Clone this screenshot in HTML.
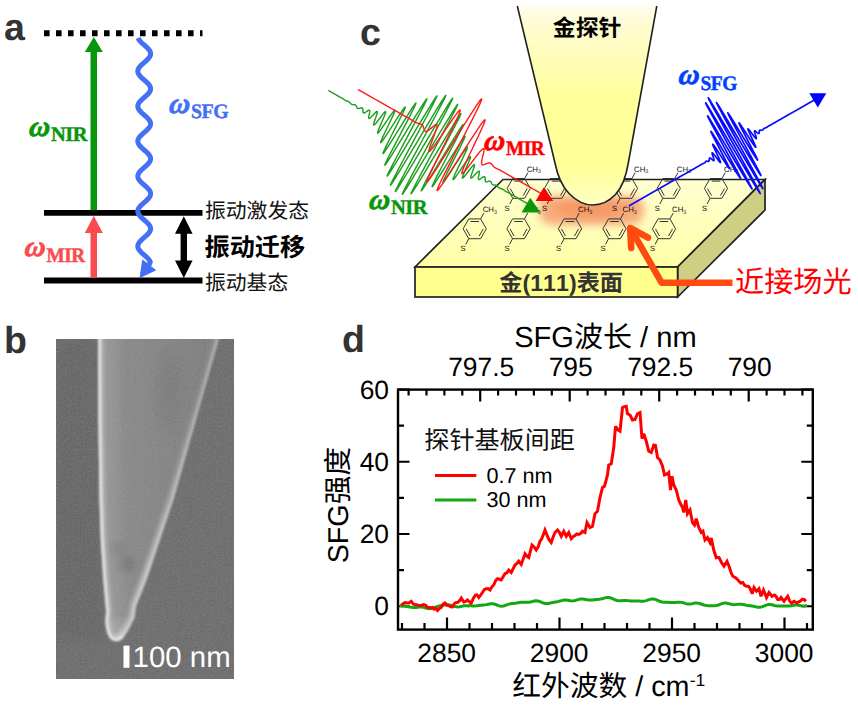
<!DOCTYPE html>
<html lang="zh"><head><meta charset="utf-8"><title>SFG figure</title>
<style>
html,body{margin:0;padding:0;background:#fff;}
body{width:858px;height:711px;overflow:hidden;font-family:"Liberation Sans",sans-serif;}
svg{display:block;font-kerning:none;text-rendering:geometricPrecision;}
text{font-kerning:none;text-rendering:geometricPrecision;}
</style></head><body>
<svg width="858" height="711" viewBox="0 0 858 711">
<defs>
<linearGradient id="tipg" x1="0" y1="0" x2="0" y2="1">
<stop offset="0" stop-color="#fffef0"/><stop offset="0.1" stop-color="#fffbd2"/><stop offset="0.45" stop-color="#ffff9c"/><stop offset="0.8" stop-color="#ffff96"/><stop offset="1" stop-color="#ffffc4"/></linearGradient>
<linearGradient id="topg" x1="0" y1="0" x2="0" y2="1"><stop offset="0" stop-color="#ffffd2"/><stop offset="1" stop-color="#ffffa6"/></linearGradient>
<filter id="blur5" x="-30%" y="-60%" width="160%" height="220%"><feGaussianBlur stdDeviation="4.5"/></filter>
<clipPath id="semclip"><rect x="56" y="339" width="178" height="340"/></clipPath>
<clipPath id="tipclip"><path d="M98.1 320 L98.1 339 L98.4 420 L99.5 500 L100.8 540 L103.4 580 L106.3 612 C104.5 622 106 632 109.5 637.5 C113 642.5 120.5 642.5 124 636.5 L128 630.5 L134.6 617.6 L135.7 607 L146.4 580 L159.8 540 L173.2 500 L218.6 339 L224 320 Z"/></clipPath>
<filter id="b07" x="-20%" y="-10%" width="140%" height="120%"><feGaussianBlur stdDeviation="0.9"/></filter>
<filter id="b1" x="-50%" y="-10%" width="200%" height="120%"><feGaussianBlur stdDeviation="1.1"/></filter>
<filter id="b2" x="-50%" y="-10%" width="200%" height="120%"><feGaussianBlur stdDeviation="2"/></filter>
<filter id="b3" x="-50%" y="-10%" width="200%" height="120%"><feGaussianBlur stdDeviation="4"/></filter>
<filter id="b6" x="-50%" y="-50%" width="200%" height="200%"><feGaussianBlur stdDeviation="6"/></filter>
<filter id="noise" x="0" y="0" width="100%" height="100%"><feTurbulence type="fractalNoise" baseFrequency="0.55" numOctaves="2" seed="3" result="n"/><feColorMatrix type="matrix" values="0 0 0 0 0.5  0 0 0 0 0.5  0 0 0 0 0.5  0.7 0.7 0.7 0 -0.8"/></filter>
<linearGradient id="semtip" x1="0" y1="0" x2="1" y2="0"><stop offset="0" stop-color="#8c8c8c"/><stop offset="0.45" stop-color="#858585"/><stop offset="1" stop-color="#7c7c7c"/></linearGradient>
<linearGradient id="rlowg" gradientUnits="userSpaceOnUse" x1="0" y1="400" x2="0" y2="580"><stop offset="0" stop-color="#e8e8e8" stop-opacity="0"/><stop offset="1" stop-color="#e8e8e8" stop-opacity="0.5"/></linearGradient>
</defs>
<rect width="858" height="711" fill="#fff"/>
<g id="panel-a">
<text x="4" y="39.5" font-size="37.5" font-weight="bold" fill="#333" font-family="'Liberation Sans', sans-serif">a</text>
<line x1="44" y1="33.3" x2="202.5" y2="33.3" stroke="#000" stroke-width="6" stroke-dasharray="5.6 6.4"/>
<line x1="44" y1="212.8" x2="202.5" y2="212.8" stroke="#000" stroke-width="5.8"/>
<line x1="44" y1="280.5" x2="202.5" y2="280.5" stroke="#000" stroke-width="5.8"/>
<path d="M90.5 210 V52 H84.8 L93.8 37 L102.8 52 H97 V210 Z" fill="#0a960a"/>
<path d="M90.5 277.7 V233 H84.8 L93.8 215.8 L102.8 233 H97 V277.7 Z" fill="#fa4b50"/>
<path d="M183.8 216.2 L192.6 233.8 H187 V260.5 H192.6 L183.8 278 L175 260.5 H180.6 V233.8 H175 Z" fill="#000"/>
<path d="M138.11 38 L138.63 39.12 L139.37 40.24 L140.31 41.36 L141.4 42.48 L142.61 43.6 L143.88 44.72 L145.16 45.84 L146.41 46.96 L147.56 48.08 L148.58 49.2 L149.42 50.32 L150.06 51.44 L150.45 52.56 L150.6 53.68 L150.49 54.8 L150.12 55.92 L149.52 57.04 L148.7 58.16 L147.7 59.28 L146.56 60.4 L145.32 61.52 L144.04 62.64 L142.76 63.76 L141.55 64.88 L140.44 66 L139.48 67.12 L138.71 68.24 L138.16 69.36 L137.86 70.48 L137.81 71.6 L138.02 72.72 L138.48 73.84 L139.17 74.96 L140.06 76.08 L141.12 77.2 L142.3 78.32 L143.56 79.44 L144.84 80.56 L146.1 81.68 L147.28 82.8 L148.34 83.92 L149.23 85.04 L149.92 86.16 L150.38 87.28 L150.59 88.4 L150.54 89.52 L150.24 90.64 L149.69 91.76 L148.92 92.88 L147.96 94 L146.85 95.12 L145.64 96.24 L144.36 97.36 L143.08 98.48 L141.84 99.6 L140.7 100.72 L139.7 101.84 L138.88 102.96 L138.28 104.08 L137.91 105.2 L137.8 106.32 L137.95 107.44 L138.34 108.56 L138.98 109.68 L139.82 110.8 L140.84 111.92 L141.99 113.04 L143.24 114.16 L144.52 115.28 L145.79 116.4 L147 117.52 L148.09 118.64 L149.03 119.76 L149.77 120.88 L150.29 122 L150.56 123.12 L150.58 124.24 L150.33 125.36 L149.85 126.48 L149.13 127.6 L148.22 128.72 L147.14 129.84 L145.95 130.96 L144.68 132.08 L143.4 133.2 L142.15 134.32 L140.98 135.44 L139.94 136.56 L139.07 137.68 L138.41 138.8 L137.98 139.92 L137.8 141.04 L137.89 142.16 L138.22 143.28 L138.8 144.4 L139.59 145.52 L140.57 146.64 L141.7 147.76 L142.92 148.88 L144.2 150 L145.48 151.12 L146.7 152.24 L147.83 153.36 L148.81 154.48 L149.6 155.6 L150.18 156.72 L150.51 157.84 L150.6 158.96 L150.42 160.08 L149.99 161.2 L149.33 162.32 L148.46 163.44 L147.42 164.56 L146.25 165.68 L145 166.8 L143.72 167.92 L142.45 169.04 L141.26 170.16 L140.18 171.28 L139.27 172.4 L138.55 173.52 L138.07 174.64 L137.82 175.76 L137.84 176.88 L138.11 178 L138.63 179.12 L139.37 180.24 L140.31 181.36 L141.4 182.48 L142.61 183.6 L143.88 184.72 L145.16 185.84 L146.41 186.96 L147.56 188.08 L148.58 189.2 L149.42 190.32 L150.06 191.44 L150.45 192.56 L150.6 193.68 L150.49 194.8 L150.12 195.92 L149.52 197.04 L148.7 198.16 L147.7 199.28 L146.56 200.4 L145.32 201.52 L144.04 202.64 L142.76 203.76 L141.55 204.88 L140.44 206 L139.48 207.12 L138.71 208.24 L138.16 209.36 L137.86 210.48 L137.81 211.6 L138.02 212.72 L138.48 213.84 L139.17 214.96 L140.06 216.08 L141.12 217.2 L142.3 218.32 L143.56 219.44 L144.84 220.56 L146.1 221.68 L147.28 222.8 L148.34 223.92 L149.23 225.04 L149.92 226.16 L150.38 227.28 L150.59 228.4 L150.54 229.52 L150.24 230.64 L149.69 231.76 L148.92 232.88 L147.96 234 L146.85 235.12 L145.64 236.24 L144.36 237.36 L143.08 238.48 L141.84 239.6 L140.7 240.72 L139.7 241.84 L138.88 242.96 L138.28 244.08 L137.91 245.2 L137.8 246.32 L137.95 247.44 L138.34 248.56 L138.98 249.68 L139.82 250.8 L140.84 251.92 L141.99 253.04 L143.24 254.16 L144.52 255.28 L145.79 256.4 L147 257.52 L148.09 258.64 L149.03 259.76 L149.77 260.88 L150.29 262 L148.5 266" fill="none" stroke="#4570f5" stroke-width="5" stroke-linejoin="round" stroke-linecap="butt"/>
<path d="M139.5 278.3 L142.3 259.3 L156.3 270.2 Z" fill="#4570f5"/>
<text transform="translate(28.5 135.5) skewX(-6)" font-size="29" fill="#0a960a" stroke="#0a960a" stroke-width="0.75" font-family="'Liberation Serif', serif" font-weight="bold" font-style="italic">ω</text><text transform="translate(50.97 141) scale(1 1)" font-size="20.5" fill="#0a960a" stroke="#0a960a" stroke-width="0.45" letter-spacing="-0.5" font-family="'Liberation Serif', serif" font-weight="bold">NIR</text>
<text transform="translate(24 256) skewX(-6)" font-size="29" fill="#fa4b50" stroke="#fa4b50" stroke-width="0.75" font-family="'Liberation Serif', serif" font-weight="bold" font-style="italic">ω</text><text transform="translate(46.47 261.5) scale(0.94 1)" font-size="20.5" fill="#fa4b50" stroke="#fa4b50" stroke-width="0.45" letter-spacing="-0.5" font-family="'Liberation Serif', serif" font-weight="bold">MIR</text>
<text transform="translate(168.5 112.5) skewX(-6)" font-size="29" fill="#4570f5" stroke="#4570f5" stroke-width="0.75" font-family="'Liberation Serif', serif" font-weight="bold" font-style="italic">ω</text><text transform="translate(190.97 118) scale(0.97 1)" font-size="20.5" fill="#4570f5" stroke="#4570f5" stroke-width="0.45" letter-spacing="-0.5" font-family="'Liberation Serif', serif" font-weight="bold">SFG</text>
<text x="205" y="218.3" font-size="20.8" fill="#111" font-family="'Liberation Sans', 'Noto Sans CJK SC', sans-serif">振动激发态</text>
<text x="204.6" y="255.5" font-size="25.1" font-weight="bold" fill="#000" font-family="'Liberation Sans', 'Noto Sans CJK SC', sans-serif">振动迁移</text>
<text x="205" y="289.8" font-size="20.8" fill="#111" font-family="'Liberation Sans', 'Noto Sans CJK SC', sans-serif">振动基态</text>
</g>
<g id="panel-c">
<text x="360" y="44.5" font-size="37.5" font-weight="bold" fill="#333" font-family="'Liberation Sans', sans-serif">c</text>
<path d="M415 267 L503 179.5 H765 L677.6 267 Z" fill="url(#topg)" stroke="#222" stroke-width="1.7" stroke-linejoin="miter"/>
<path d="M677.6 267 L765 179.5 V210 L677.6 297 Z" fill="#cfcf84" stroke="#222" stroke-width="1.7" stroke-linejoin="miter"/>
<rect x="415" y="267" width="262.6" height="30" fill="#ffff8e" stroke="#222" stroke-width="1.7"/>
<rect x="539" y="196" width="105" height="29" rx="13" fill="#f7a878" fill-opacity="0.95" filter="url(#blur5)"/>
<ellipse cx="590" cy="208" rx="36" ry="9" fill="#ee7c40" fill-opacity="0.38" filter="url(#blur5)"/>
<path d="M512.75 178.5 L524.65 178.5 L530.3 188.4 L524.65 198.3 L512.75 198.3 L507.1 188.4 ZM514.42 181.1 L522.98 181.1M527.24 188.51 L523.18 195.64M514.22 195.64 L510.16 188.51M524.65 178.5 L527.9 172.6M512.75 198.3 L509.8 204" fill="none" stroke="#2a2a2a" stroke-width="0.95"/><text x="526.7" y="171.8" font-size="7.8" fill="#111" font-family="'Liberation Sans', sans-serif">CH<tspan font-size="5.4" dy="1.4">3</tspan></text><text x="504.6" y="210.8" font-size="7.6" fill="#111" font-family="'Liberation Sans', sans-serif">S</text>
<path d="M550.05 178.5 L561.95 178.5 L567.6 188.4 L561.95 198.3 L550.05 198.3 L544.4 188.4 ZM551.72 181.1 L560.28 181.1M564.54 188.51 L560.48 195.64M551.52 195.64 L547.46 188.51M561.95 178.5 L565.2 172.6M550.05 198.3 L547.1 204" fill="none" stroke="#2a2a2a" stroke-width="0.95"/><text x="564" y="171.8" font-size="7.8" fill="#111" font-family="'Liberation Sans', sans-serif">CH<tspan font-size="5.4" dy="1.4">3</tspan></text><text x="541.9" y="210.8" font-size="7.6" fill="#111" font-family="'Liberation Sans', sans-serif">S</text>
<path d="M620.05 178.5 L631.95 178.5 L637.6 188.4 L631.95 198.3 L620.05 198.3 L614.4 188.4 ZM621.72 181.1 L630.28 181.1M634.54 188.51 L630.48 195.64M621.52 195.64 L617.46 188.51M631.95 178.5 L635.2 172.6M620.05 198.3 L617.1 204" fill="none" stroke="#2a2a2a" stroke-width="0.95"/><text x="634" y="171.8" font-size="7.8" fill="#111" font-family="'Liberation Sans', sans-serif">CH<tspan font-size="5.4" dy="1.4">3</tspan></text><text x="611.9" y="210.8" font-size="7.6" fill="#111" font-family="'Liberation Sans', sans-serif">S</text>
<path d="M662.8 178.5 L674.7 178.5 L680.35 188.4 L674.7 198.3 L662.8 198.3 L657.15 188.4 ZM664.47 181.1 L673.03 181.1M677.29 188.51 L673.23 195.64M664.27 195.64 L660.21 188.51M674.7 178.5 L677.95 172.6M662.8 198.3 L659.85 204" fill="none" stroke="#2a2a2a" stroke-width="0.95"/><text x="676.75" y="171.8" font-size="7.8" fill="#111" font-family="'Liberation Sans', sans-serif">CH<tspan font-size="5.4" dy="1.4">3</tspan></text><text x="654.65" y="210.8" font-size="7.6" fill="#111" font-family="'Liberation Sans', sans-serif">S</text>
<path d="M710.05 178.5 L721.95 178.5 L727.6 188.4 L721.95 198.3 L710.05 198.3 L704.4 188.4 ZM711.72 181.1 L720.28 181.1M724.54 188.51 L720.48 195.64M711.52 195.64 L707.46 188.51M721.95 178.5 L725.2 172.6M710.05 198.3 L707.1 204" fill="none" stroke="#2a2a2a" stroke-width="0.95"/><text x="724" y="171.8" font-size="7.8" fill="#111" font-family="'Liberation Sans', sans-serif">CH<tspan font-size="5.4" dy="1.4">3</tspan></text><text x="701.9" y="210.8" font-size="7.6" fill="#111" font-family="'Liberation Sans', sans-serif">S</text>
<path d="M468.75 218.9 L480.65 218.9 L486.3 228.8 L480.65 238.7 L468.75 238.7 L463.1 228.8 ZM470.42 221.5 L478.98 221.5M483.24 228.91 L479.18 236.04M470.22 236.04 L466.16 228.91M480.65 218.9 L483.9 213M468.75 238.7 L465.8 244.4" fill="none" stroke="#2a2a2a" stroke-width="0.95"/><text x="482.7" y="212.2" font-size="7.8" fill="#111" font-family="'Liberation Sans', sans-serif">CH<tspan font-size="5.4" dy="1.4">3</tspan></text><text x="460.6" y="251.2" font-size="7.6" fill="#111" font-family="'Liberation Sans', sans-serif">S</text>
<path d="M512.55 218.9 L524.45 218.9 L530.1 228.8 L524.45 238.7 L512.55 238.7 L506.9 228.8 ZM514.22 221.5 L522.78 221.5M527.04 228.91 L522.98 236.04M514.02 236.04 L509.96 228.91M524.45 218.9 L527.7 213M512.55 238.7 L509.6 244.4" fill="none" stroke="#2a2a2a" stroke-width="0.95"/><text x="526.5" y="212.2" font-size="7.8" fill="#111" font-family="'Liberation Sans', sans-serif">CH<tspan font-size="5.4" dy="1.4">3</tspan></text><text x="504.4" y="251.2" font-size="7.6" fill="#111" font-family="'Liberation Sans', sans-serif">S</text>
<path d="M564.05 218.9 L575.95 218.9 L581.6 228.8 L575.95 238.7 L564.05 238.7 L558.4 228.8 ZM565.72 221.5 L574.28 221.5M578.54 228.91 L574.48 236.04M565.52 236.04 L561.46 228.91M575.95 218.9 L579.2 213M564.05 238.7 L561.1 244.4" fill="none" stroke="#2a2a2a" stroke-width="0.95"/><text x="578" y="212.2" font-size="7.8" fill="#111" font-family="'Liberation Sans', sans-serif">CH<tspan font-size="5.4" dy="1.4">3</tspan></text><text x="555.9" y="251.2" font-size="7.6" fill="#111" font-family="'Liberation Sans', sans-serif">S</text>
<path d="M608.55 218.9 L620.45 218.9 L626.1 228.8 L620.45 238.7 L608.55 238.7 L602.9 228.8 ZM610.22 221.5 L618.78 221.5M623.04 228.91 L618.98 236.04M610.02 236.04 L605.96 228.91M620.45 218.9 L623.7 213M608.55 238.7 L605.6 244.4" fill="none" stroke="#2a2a2a" stroke-width="0.95"/><text x="622.5" y="212.2" font-size="7.8" fill="#111" font-family="'Liberation Sans', sans-serif">CH<tspan font-size="5.4" dy="1.4">3</tspan></text><text x="600.4" y="251.2" font-size="7.6" fill="#111" font-family="'Liberation Sans', sans-serif">S</text>
<path d="M658.05 218.9 L669.95 218.9 L675.6 228.8 L669.95 238.7 L658.05 238.7 L652.4 228.8 ZM659.72 221.5 L668.28 221.5M672.54 228.91 L668.48 236.04M659.52 236.04 L655.46 228.91M669.95 218.9 L673.2 213M658.05 238.7 L655.1 244.4" fill="none" stroke="#2a2a2a" stroke-width="0.95"/><text x="672" y="212.2" font-size="7.8" fill="#111" font-family="'Liberation Sans', sans-serif">CH<tspan font-size="5.4" dy="1.4">3</tspan></text><text x="649.9" y="251.2" font-size="7.6" fill="#111" font-family="'Liberation Sans', sans-serif">S</text>
<path d="M517 5 L555 163 C557.5 176 562 186.5 569.5 194 C576.5 201 585 205 592.5 205 C600 205 609 201.5 615.5 194.5 C622 187.5 626 177 628.3 163 L657 5 Z" fill="url(#tipg)"/>
<path d="M517.3 6 L555 163 C557.5 176 562 186.5 569.5 194 C576.5 201 585 205 592.5 205 C600 205 609 201.5 615.5 194.5 C622 187.5 626 177 628.3 163 L656.8 6" fill="none" stroke="#222" stroke-width="1.6"/>
<text x="552.8" y="35.7" font-size="22.9" font-weight="bold" fill="#000" font-family="'Liberation Sans', 'Noto Sans CJK SC', sans-serif">金探针</text>
<text x="499.3" y="290.9" font-size="23.2" font-weight="bold" fill="#333" font-family="'Liberation Sans', 'Noto Sans CJK SC', sans-serif">金</text><text x="522.5" y="290.9" font-size="23.2" fill="#333" font-family="'Liberation Sans', sans-serif" font-weight="bold" xml:space="preserve">(111)</text><text x="576.66" y="290.9" font-size="23.2" font-weight="bold" fill="#333" font-family="'Liberation Sans', 'Noto Sans CJK SC', sans-serif">表面</text>
<path d="M328.41 90.49 L328.62 90.61 L328.84 90.73 L329.06 90.86 L329.28 90.98 L329.49 91.1 L329.71 91.23 L329.93 91.35 L330.14 91.48 L330.36 91.61 L330.58 91.73 L330.79 91.86 L331.01 91.99 L331.22 92.11 L331.44 92.24 L331.65 92.37 L331.87 92.5 L332.08 92.62 L332.3 92.75 L332.52 92.87 L332.73 92.99 L332.95 93.11 L333.17 93.24 L333.39 93.35 L333.61 93.47 L333.83 93.59 L334.05 93.71 L334.27 93.83 L334.5 93.94 L334.72 94.06 L334.94 94.18 L335.16 94.29 L335.38 94.41 L335.6 94.54 L335.81 94.66 L336.03 94.78 L336.25 94.91 L336.46 95.04 L336.67 95.17 L336.89 95.3 L337.1 95.44 L337.31 95.57 L337.52 95.7 L337.73 95.84 L337.94 95.97 L338.15 96.11 L338.37 96.24 L338.58 96.37 L338.8 96.49 L339.01 96.62 L339.23 96.74 L339.45 96.85 L339.68 96.97 L339.9 97.08 L340.13 97.19 L340.35 97.3 L340.58 97.4 L340.81 97.51 L341.04 97.61 L341.26 97.72 L341.49 97.83 L341.71 97.94 L341.94 98.05 L342.16 98.17 L342.37 98.3 L342.59 98.43 L342.8 98.56 L343.01 98.7 L343.21 98.85 L343.41 98.99 L343.62 99.14 L343.82 99.3 L344.02 99.45 L344.22 99.6 L344.42 99.75 L344.62 99.9 L344.83 100.04 L345.04 100.18 L345.26 100.3 L345.48 100.43 L345.7 100.54 L345.93 100.64 L346.16 100.74 L346.4 100.83 L346.64 100.91 L346.88 100.99 L347.13 101.06 L347.37 101.14 L347.61 101.22 L347.85 101.3 L348.09 101.39 L348.32 101.49 L348.55 101.6 L348.77 101.71 L348.98 101.85 L349.19 101.99 L349.39 102.15 L349.58 102.32 L349.76 102.5 L349.94 102.68 L350.12 102.88 L350.3 103.07 L350.47 103.27 L350.65 103.46 L350.83 103.65 L351.02 103.82 L351.22 103.98 L351.42 104.13 L351.64 104.25 L351.87 104.36 L352.11 104.45 L352.35 104.51 L352.61 104.56 L352.88 104.6 L353.16 104.62 L353.43 104.64 L353.72 104.65 L353.99 104.66 L354.27 104.68 L354.54 104.72 L354.8 104.77 L355.04 104.84 L355.27 104.94 L355.49 105.07 L355.69 105.22 L355.87 105.41 L356.04 105.62 L356.19 105.86 L356.33 106.12 L356.46 106.4 L356.58 106.69 L356.71 106.98 L356.83 107.26 L356.96 107.53 L357.11 107.78 L357.27 108.01 L357.45 108.2 L357.65 108.35 L357.88 108.46 L358.13 108.52 L358.4 108.55 L358.7 108.53 L359.02 108.47 L359.35 108.39 L359.7 108.28 L360.06 108.17 L360.41 108.05 L360.76 107.94 L361.1 107.85 L361.42 107.79 L361.71 107.78 L361.98 107.82 L362.21 107.92 L362.41 108.07 L362.57 108.3 L362.7 108.58 L362.79 108.92 L362.85 109.31 L362.9 109.74 L362.92 110.2 L362.94 110.68 L362.96 111.15 L362.99 111.6 L363.04 112.02 L363.12 112.38 L363.24 112.69 L363.4 112.91 L363.6 113.05 L363.86 113.11 L364.17 113.07 L364.53 112.95 L364.93 112.74 L365.37 112.47 L365.84 112.15 L366.33 111.79 L366.83 111.42 L367.32 111.06 L367.8 110.73 L368.24 110.45 L368.64 110.26 L368.99 110.15 L369.28 110.16 L369.49 110.28 L369.64 110.53 L369.71 110.91 L369.72 111.4 L369.66 112 L369.56 112.69 L369.42 113.45 L369.25 114.25 L369.08 115.06 L368.92 115.85 L368.79 116.58 L368.71 117.23 L368.69 117.77 L368.74 118.18 L368.89 118.43 L369.13 118.51 L369.47 118.42 L369.9 118.16 L370.43 117.74 L371.03 117.18 L371.7 116.51 L372.42 115.75 L373.16 114.95 L373.91 114.15 L374.63 113.38 L375.31 112.69 L375.92 112.13 L376.43 111.73 L376.84 111.52 L377.12 111.53 L377.28 111.76 L377.3 112.22 L377.2 112.91 L376.98 113.81 L376.65 114.88 L376.25 116.1 L375.79 117.42 L375.3 118.79 L374.82 120.14 L374.37 121.43 L374 122.6 L373.72 123.59 L373.57 124.35 L373.58 124.86 L373.74 125.07 L374.08 124.98 L374.59 124.59 L375.27 123.9 L376.1 122.95 L377.05 121.77 L378.11 120.42 L379.23 118.95 L380.37 117.44 L381.5 115.97 L382.57 114.6 L383.53 113.41 L384.35 112.47 L385 111.83 L385.45 111.54 L385.69 111.63 L385.7 112.12 L385.49 113 L385.06 114.26 L384.45 115.84 L383.68 117.71 L382.79 119.77 L381.83 121.96 L380.86 124.18 L379.92 126.34 L379.08 128.33 L378.38 130.07 L377.86 131.48 L377.58 132.48 L377.56 133.02 L377.82 133.07 L378.37 132.61 L379.2 131.66 L380.29 130.24 L381.61 128.42 L383.12 126.28 L384.76 123.9 L386.47 121.39 L388.18 118.88 L389.84 116.48 L391.35 114.31 L392.68 112.49 L393.75 111.11 L394.52 110.26 L394.95 110 L395.04 110.36 L394.76 111.36 L394.14 112.96 L393.2 115.12 L391.98 117.76 L390.55 120.78 L388.98 124.06 L387.34 127.46 L385.71 130.82 L384.19 134.02 L382.84 136.88 L381.76 139.29 L381.01 141.12 L380.64 142.28 L380.68 142.71 L381.17 142.36 L382.09 141.25 L383.43 139.4 L385.14 136.89 L387.17 133.82 L389.44 130.33 L391.87 126.56 L394.36 122.69 L396.79 118.91 L399.08 115.38 L401.13 112.3 L402.83 109.8 L404.12 108.04 L404.94 107.1 L405.24 107.07 L405.02 107.98 L404.27 109.8 L403.04 112.48 L401.36 115.92 L399.34 120 L397.04 124.55 L394.59 129.36 L392.11 134.25 L389.71 138.98 L387.51 143.34 L385.64 147.14 L384.2 150.19 L383.27 152.33 L382.91 153.47 L383.17 153.52 L384.05 152.48 L385.54 150.36 L387.59 147.25 L390.14 143.28 L393.08 138.61 L396.29 133.45 L399.66 128.03 L403.03 122.6 L406.27 117.41 L409.23 112.71 L411.78 108.73 L413.8 105.68 L415.21 103.7 L415.94 102.93 L415.94 103.42 L415.23 105.19 L413.82 108.18 L411.77 112.28 L409.19 117.34 L406.18 123.14 L402.89 129.44 L399.46 135.97 L396.08 142.44 L392.89 148.56 L390.06 154.04 L387.73 158.64 L386.04 162.13 L385.07 164.35 L384.89 165.17 L385.54 164.54 L387 162.47 L389.24 159.03 L392.17 154.38 L395.68 148.7 L399.64 142.24 L403.88 135.29 L408.21 128.17 L412.45 121.2 L416.43 114.71 L419.96 109.01 L422.88 104.37 L425.07 101.03 L426.42 99.16 L426.87 98.87 L426.4 100.2 L425.02 103.13 L422.8 107.55 L419.83 113.27 L416.26 120.07 L412.24 127.66 L407.96 135.7 L403.62 143.84 L399.43 151.72 L395.59 158.98 L392.3 165.29 L389.7 170.36 L387.95 173.94 L387.15 175.87 L387.34 176.04 L388.54 174.43 L390.72 171.1 L393.8 166.18 L397.66 159.89 L402.15 152.51 L407.07 144.35 L412.21 135.8 L417.36 127.24 L422.29 119.07 L426.79 111.66 L430.65 105.36 L433.71 100.49 L435.83 97.26 L436.91 95.87 L436.91 96.38 L435.82 98.8 L433.7 103.04 L430.64 108.93 L426.78 116.23 L422.31 124.61 L417.42 133.71 L412.36 143.14 L407.35 152.46 L402.63 161.27 L398.43 169.17 L394.95 175.8 L392.37 180.85 L390.82 184.09 L390.38 185.36 L391.09 184.61 L392.94 181.86 L395.86 177.23 L399.74 170.92 L404.41 163.21 L409.67 154.45 L415.3 145.03 L421.07 135.4 L426.71 125.98 L431.98 117.2 L436.65 109.48 L440.52 103.18 L443.42 98.58 L445.22 95.92 L445.85 95.32 L445.28 96.83 L443.54 100.39 L440.73 105.86 L436.96 112.99 L432.43 121.47 L427.34 130.94 L421.92 140.98 L416.45 151.12 L411.16 160.93 L406.31 169.97 L402.14 177.83 L398.83 184.15 L396.56 188.66 L395.43 191.15 L395.51 191.52 L396.8 189.75 L399.26 185.92 L402.79 180.22 L407.24 172.89 L412.42 164.28 L418.1 154.79 L424.04 144.84 L429.98 134.89 L435.67 125.39 L440.84 116.78 L445.29 109.46 L448.82 103.75 L451.28 99.92 L452.58 98.15 L452.66 98.52 L451.53 101.02 L449.25 105.53 L445.95 111.85 L441.77 119.71 L436.92 128.74 L431.64 138.55 L426.16 148.7 L420.75 158.73 L415.66 168.2 L411.12 176.69 L407.36 183.82 L404.54 189.28 L402.81 192.84 L402.24 194.35 L402.86 193.75 L404.66 191.09 L407.56 186.5 L411.43 180.19 L416.1 172.47 L421.38 163.7 L427.02 154.28 L432.78 144.64 L438.42 135.23 L443.68 126.47 L448.35 118.76 L452.22 112.45 L455.14 107.81 L456.99 105.06 L457.71 104.31 L457.27 105.59 L455.71 108.83 L453.13 113.88 L449.66 120.5 L445.46 128.4 L440.74 137.21 L435.73 146.54 L430.66 155.96 L425.77 165.07 L421.3 173.45 L417.44 180.74 L414.39 186.63 L412.26 190.88 L411.18 193.3 L411.17 193.81 L412.25 192.41 L414.37 189.19 L417.43 184.31 L421.29 178.02 L425.79 170.61 L430.72 162.43 L435.87 153.87 L441.02 145.32 L445.94 137.17 L450.42 129.78 L454.28 123.49 L457.36 118.58 L459.54 115.24 L460.75 113.63 L460.94 113.8 L460.13 115.73 L458.38 119.32 L455.79 124.39 L452.49 130.7 L448.65 137.96 L444.46 145.84 L440.13 153.98 L435.85 162.02 L431.83 169.6 L428.25 176.4 L425.28 182.13 L423.06 186.54 L421.69 189.47 L421.21 190.81 L421.67 190.52 L423.02 188.65 L425.2 185.3 L428.13 180.66 L431.66 174.96 L435.63 168.47 L439.88 161.5 L444.21 154.38 L448.44 147.44 L452.4 140.98 L455.91 135.3 L458.85 130.64 L461.09 127.21 L462.55 125.14 L463.19 124.51 L463.02 125.33 L462.05 127.54 L460.35 131.04 L458.02 135.63 L455.2 141.12 L452.01 147.24 L448.62 153.7 L445.2 160.23 L441.91 166.53 L438.9 172.34 L436.31 177.39 L434.27 181.5 L432.86 184.48 L432.14 186.25 L432.15 186.75 L432.87 185.97 L434.28 184 L436.31 180.94 L438.86 176.96 L441.81 172.26 L445.05 167.07 L448.42 161.64 L451.79 156.22 L455.01 151.06 L457.95 146.4 L460.49 142.42 L462.55 139.31 L464.04 137.2 L464.92 136.15 L465.17 136.21 L464.82 137.34 L463.88 139.49 L462.44 142.54 L460.57 146.33 L458.38 150.7 L455.98 155.43 L453.49 160.31 L451.04 165.13 L448.75 169.67 L446.72 173.75 L445.05 177.2 L443.81 179.88 L443.07 181.7 L442.84 182.6 L443.15 182.57 L443.96 181.64 L445.25 179.87 L446.96 177.38 L449 174.29 L451.29 170.77 L453.73 166.98 L456.21 163.11 L458.64 159.35 L460.91 155.85 L462.94 152.79 L464.66 150.28 L465.99 148.43 L466.92 147.31 L467.4 146.97 L467.45 147.39 L467.07 148.55 L466.32 150.38 L465.24 152.79 L463.9 155.66 L462.37 158.85 L460.75 162.22 L459.1 165.62 L457.53 168.9 L456.1 171.92 L454.89 174.56 L453.95 176.72 L453.32 178.32 L453.05 179.31 L453.13 179.67 L453.57 179.41 L454.34 178.56 L455.41 177.19 L456.73 175.36 L458.25 173.2 L459.9 170.8 L461.62 168.28 L463.33 165.78 L464.97 163.4 L466.47 161.25 L467.79 159.43 L468.88 158.02 L469.71 157.07 L470.26 156.61 L470.52 156.66 L470.5 157.2 L470.22 158.2 L469.71 159.6 L469.01 161.35 L468.16 163.34 L467.22 165.49 L466.25 167.71 L465.3 169.9 L464.41 171.97 L463.64 173.83 L463.02 175.42 L462.6 176.67 L462.39 177.56 L462.39 178.04 L462.63 178.14 L463.08 177.85 L463.73 177.21 L464.55 176.27 L465.52 175.08 L466.58 173.71 L467.71 172.23 L468.85 170.72 L469.97 169.26 L471.03 167.91 L471.99 166.73 L472.82 165.77 L473.49 165.09 L474.01 164.69 L474.34 164.61 L474.51 164.82 L474.51 165.32 L474.36 166.09 L474.09 167.08 L473.71 168.24 L473.27 169.53 L472.79 170.89 L472.3 172.25 L471.84 173.57 L471.43 174.79 L471.11 175.87 L470.88 176.77 L470.78 177.46 L470.8 177.92 L470.96 178.15 L471.25 178.15 L471.65 177.94 L472.17 177.54 L472.78 176.98 L473.45 176.3 L474.17 175.53 L474.92 174.72 L475.66 173.92 L476.38 173.17 L477.05 172.49 L477.66 171.93 L478.18 171.51 L478.62 171.25 L478.95 171.17 L479.19 171.25 L479.34 171.5 L479.4 171.9 L479.38 172.44 L479.3 173.09 L479.17 173.83 L479.01 174.62 L478.83 175.43 L478.67 176.23 L478.52 176.98 L478.42 177.67 L478.37 178.27 L478.37 178.77 L478.45 179.14 L478.59 179.39 L478.81 179.52 L479.09 179.52 L479.44 179.42 L479.84 179.22 L480.28 178.95 L480.76 178.62 L481.25 178.25 L481.75 177.88 L482.24 177.52 L482.71 177.2 L483.15 176.93 L483.56 176.73 L483.92 176.6 L484.22 176.57 L484.48 176.62 L484.69 176.76 L484.85 176.99 L484.96 177.29 L485.04 177.66 L485.09 178.08 L485.12 178.53 L485.14 179 L485.16 179.47 L485.19 179.93 L485.23 180.36 L485.3 180.75 L485.39 181.1 L485.52 181.38 L485.68 181.6 L485.87 181.76 L486.11 181.86 L486.37 181.89 L486.67 181.88 L486.99 181.83 L487.32 181.74 L487.67 181.63 L488.03 181.51 L488.38 181.39 L488.73 181.29 L489.07 181.2 L489.39 181.15 L489.68 181.13 L489.96 181.15 L490.21 181.22 L490.43 181.33 L490.63 181.48 L490.81 181.67 L490.97 181.89 L491.12 182.14 L491.25 182.42 L491.38 182.7 L491.5 182.99 L491.63 183.28 L491.76 183.55 L491.89 183.81 L492.05 184.05 L492.21 184.27 L492.39 184.45 L492.59 184.61 L492.81 184.74 L493.04 184.83 L493.29 184.91 L493.55 184.96 L493.81 184.99 L494.09 185.01 L494.37 185.03 L494.65 185.04 L494.93 185.05 L495.2 185.08 L495.47 185.11 L495.73 185.16 L495.98 185.23 L496.22 185.32 L496.44 185.42 L496.66 185.55 L496.87 185.69 L497.06 185.85 L497.25 186.03 L497.43 186.21 L497.61 186.4 L497.79 186.6 L497.96 186.8 L498.14 186.99 L498.32 187.18 L498.51 187.36 L498.7 187.53 L498.9 187.68 L499.1 187.83 L499.32 187.96 L499.54 188.08 L499.76 188.19 L499.99 188.28 L500.23 188.37 L500.47 188.46 L500.71 188.53 L500.96 188.61 L501.2 188.69 L501.45 188.77 L501.69 188.85 L501.92 188.94 L502.16 189.03 L502.38 189.14 L502.61 189.25 L502.83 189.37 L503.04 189.5 L503.25 189.63 L503.46 189.78 L503.66 189.92 L503.87 190.07 L504.07 190.22 L504.27 190.38 L504.47 190.53 L504.67 190.68 L504.87 190.83 L505.08 190.97 L505.29 191.11 L505.5 191.25 L505.71 191.38 L505.93 191.5 L506.15 191.62 L506.37 191.74 L506.59 191.85 L506.82 191.96 L507.05 192.06 L507.28 192.17 L507.5 192.27 L507.73 192.38 L507.96 192.49 L508.18 192.6 L508.41 192.71 L508.63 192.82 L508.85 192.94 L509.07 193.06 L509.29 193.18 L509.5 193.31 L509.72 193.44 L509.93 193.57 L510.14 193.7 L510.35 193.84 L510.56 193.97 L510.78 194.11 L510.99 194.24 L511.2 194.37 L511.41 194.51 L511.62 194.64 L511.84 194.76 L512.05 194.89 L512.27 195.02 L512.49 195.14 L512.71 195.26 L512.93 195.38 L513.15 195.5 L513.37 195.62 L513.59 195.73 L513.81 195.85 L514.03 195.97 L514.25 196.08 L514.47 196.2 L514.69 196.32 L514.91 196.44 L515.13 196.56 L515.35 196.68 L515.57 196.81 L515.78 196.93 L516 197.05 L516.22 197.18 L516.43 197.31 L516.65 197.43 L516.86 197.56 L517.08 197.69 L517.29 197.82 L517.51 197.94 L517.72 198.07 L517.94 198.2 L518.16 198.32 L518.37 198.45 L518.59 198.57 L518.81 198.7 L519.02 198.82 L519.24 198.94 L519.46 199.06 L519.68 199.18 L519.9 199.31 L520.12 199.43 L520.34 199.55 L520.55 199.67 L520.77 199.79 L520.99 199.91 L521.21 200.03 L521.43 200.16 L521.64 200.28 L521.86 200.4 L522.08 200.53 L522.3 200.65 L522.51 200.77 L522.73 200.9 L522.95 201.02 L523.16 201.15 L523.38 201.27 L523.6 201.4 L523.81 201.52 L524.03 201.65 L524.25 201.77 L524.46 201.9 L524.68 202.02 L524.9 202.14 L525.12 202.27 L525.33 202.39 L525.55 202.51 L525.77 202.64 L525.99 202.76 L526.2 202.88 L526.42 203.01 L526.64 203.13 L526.86 203.25 L527.07 203.37 L527.29 203.5 L527.51 203.62 L527.73 203.74 L527.95 203.87" fill="none" stroke="#1ea01e" stroke-width="1.45" stroke-linejoin="round"/>
<path d="M358 89.5 L358.22 89.62 L358.43 89.75 L358.65 89.87 L358.87 89.99 L359.09 90.12 L359.3 90.24 L359.52 90.36 L359.74 90.49 L359.96 90.61 L360.17 90.73 L360.39 90.86 L360.61 90.98 L360.83 91.1 L361.04 91.23 L361.26 91.35 L361.48 91.48 L361.7 91.6 L361.91 91.72 L362.13 91.85 L362.35 91.97 L362.57 92.09 L362.78 92.22 L363 92.34 L363.22 92.46 L363.43 92.59 L363.65 92.71 L363.87 92.83 L364.09 92.96 L364.3 93.08 L364.52 93.2 L364.74 93.33 L364.96 93.45 L365.17 93.57 L365.39 93.7 L365.61 93.82 L365.83 93.94 L366.04 94.07 L366.26 94.19 L366.48 94.31 L366.7 94.44 L366.91 94.56 L367.13 94.68 L367.35 94.81 L367.57 94.93 L367.78 95.06 L368 95.18 L368.22 95.3 L368.43 95.43 L368.65 95.55 L368.87 95.67 L369.09 95.8 L369.3 95.92 L369.52 96.04 L369.74 96.17 L369.96 96.29 L370.17 96.41 L370.39 96.54 L370.61 96.66 L370.83 96.78 L371.04 96.91 L371.26 97.03 L371.48 97.15 L371.7 97.28 L371.91 97.4 L372.13 97.52 L372.35 97.65 L372.57 97.77 L372.78 97.89 L373 98.02 L373.22 98.14 L373.44 98.26 L373.65 98.39 L373.87 98.51 L374.09 98.64 L374.3 98.76 L374.52 98.88 L374.74 99.01 L374.96 99.13 L375.17 99.25 L375.39 99.38 L375.61 99.5 L375.83 99.62 L376.04 99.75 L376.26 99.87 L376.48 99.99 L376.7 100.12 L376.91 100.24 L377.13 100.36 L377.35 100.49 L377.57 100.61 L377.78 100.73 L378 100.86 L378.22 100.98 L378.44 101.1 L378.65 101.23 L378.87 101.35 L379.09 101.47 L379.3 101.6 L379.52 101.72 L379.74 101.84 L379.96 101.97 L380.17 102.09 L380.39 102.22 L380.61 102.34 L380.83 102.46 L381.04 102.59 L381.26 102.71 L381.48 102.83 L381.7 102.96 L381.91 103.08 L382.13 103.2 L382.35 103.33 L382.57 103.45 L382.78 103.57 L383 103.7 L383.22 103.82 L383.44 103.94 L383.65 104.07 L383.87 104.19 L384.09 104.31 L384.3 104.44 L384.52 104.56 L384.74 104.68 L384.96 104.81 L385.17 104.93 L385.39 105.05 L385.61 105.18 L385.83 105.3 L386.04 105.42 L386.26 105.55 L386.48 105.67 L386.7 105.8 L386.91 105.92 L387.13 106.04 L387.35 106.17 L387.57 106.29 L387.78 106.41 L388 106.54 L388.22 106.66 L388.44 106.78 L388.65 106.91 L388.87 107.03 L389.09 107.15 L389.3 107.28 L389.52 107.4 L389.74 107.52 L389.96 107.65 L390.17 107.77 L390.39 107.89 L390.61 108.02 L390.83 108.14 L391.04 108.26 L391.26 108.39 L391.48 108.51 L391.7 108.63 L391.91 108.76 L392.13 108.88 L392.35 109 L392.57 109.13 L392.78 109.25 L393 109.38 L393.22 109.5 L393.44 109.62 L393.65 109.75 L393.87 109.87 L394.09 109.99 L394.31 110.12 L394.52 110.24 L394.74 110.36 L394.96 110.49 L395.17 110.61 L395.39 110.73 L395.61 110.86 L395.83 110.98 L396.04 111.1 L396.26 111.23 L396.48 111.35 L396.7 111.47 L396.91 111.6 L397.13 111.72 L397.35 111.84 L397.57 111.97 L397.78 112.09 L398 112.21 L398.22 112.34 L398.44 112.46 L398.65 112.58 L398.87 112.71 L399.09 112.83 L399.31 112.95 L399.52 113.08 L399.74 113.2 L399.96 113.33 L400.17 113.45 L400.39 113.57 L400.61 113.7 L400.83 113.82 L401.04 113.94 L401.26 114.07 L401.48 114.19 L401.69 114.32 L401.91 114.44 L402.13 114.56 L402.35 114.69 L402.56 114.81 L402.78 114.94 L403 115.06 L403.22 115.18 L403.43 115.31 L403.65 115.43 L403.87 115.55 L404.08 115.68 L404.3 115.8 L404.52 115.92 L404.74 116.05 L404.96 116.17 L405.17 116.29 L405.39 116.41 L405.61 116.54 L405.83 116.66 L406.05 116.78 L406.26 116.9 L406.48 117.02 L406.7 117.14 L406.92 117.26 L407.14 117.38 L407.36 117.5 L407.58 117.63 L407.8 117.75 L408.02 117.87 L408.23 117.99 L408.45 118.11 L408.67 118.23 L408.89 118.35 L409.11 118.47 L409.33 118.6 L409.54 118.72 L409.76 118.84 L409.98 118.97 L410.19 119.09 L410.41 119.22 L410.63 119.35 L410.84 119.48 L411.05 119.61 L411.27 119.74 L411.48 119.87 L411.69 120 L411.9 120.13 L412.11 120.27 L412.32 120.41 L412.53 120.54 L412.74 120.68 L412.95 120.82 L413.16 120.96 L413.37 121.09 L413.58 121.23 L413.79 121.37 L414 121.51 L414.21 121.64 L414.42 121.77 L414.63 121.91 L414.85 122.04 L415.06 122.16 L415.28 122.28 L415.5 122.4 L415.72 122.52 L415.95 122.63 L416.17 122.74 L416.4 122.84 L416.63 122.94 L416.87 123.03 L417.11 123.12 L417.35 123.2 L417.59 123.28 L417.84 123.36 L418.08 123.43 L418.33 123.49 L418.58 123.56 L418.84 123.62 L419.09 123.68 L419.34 123.74 L419.6 123.8 L419.85 123.87 L420.1 123.93 L420.34 124 L420.59 124.08 L420.82 124.17 L421.06 124.26 L421.29 124.37 L421.51 124.49 L421.72 124.62 L421.92 124.76 L422.12 124.92 L422.31 125.1 L422.49 125.29 L422.65 125.5 L422.81 125.73 L422.96 125.98 L423.1 126.24 L423.22 126.52 L423.34 126.82 L423.46 127.13 L423.56 127.45 L423.66 127.78 L423.76 128.12 L423.85 128.46 L423.95 128.8 L424.04 129.14 L424.14 129.47 L424.25 129.79 L424.36 130.09 L424.49 130.38 L424.62 130.64 L424.78 130.87 L424.95 131.07 L425.15 131.23 L425.37 131.36 L425.61 131.43 L425.88 131.46 L426.18 131.45 L426.51 131.38 L426.86 131.26 L427.25 131.08 L427.66 130.86 L428.11 130.58 L428.58 130.26 L429.07 129.9 L429.59 129.5 L430.12 129.06 L430.67 128.6 L431.23 128.12 L431.8 127.63 L432.37 127.13 L432.93 126.65 L433.48 126.18 L434.02 125.75 L434.53 125.35 L435.01 125.01 L435.45 124.73 L435.86 124.53 L436.21 124.41 L436.52 124.38 L436.76 124.46 L436.94 124.65 L437.05 124.95 L437.1 125.38 L437.07 125.93 L436.98 126.61 L436.81 127.41 L436.57 128.33 L436.27 129.37 L435.9 130.53 L435.48 131.78 L435 133.12 L434.49 134.54 L433.93 136.02 L433.36 137.54 L432.77 139.08 L432.18 140.62 L431.6 142.14 L431.05 143.62 L430.54 145.04 L430.07 146.36 L429.68 147.57 L429.35 148.64 L429.12 149.55 L428.99 150.29 L428.98 150.82 L429.08 151.14 L429.32 151.24 L429.69 151.09 L430.2 150.7 L430.85 150.06 L431.64 149.16 L432.58 148.02 L433.65 146.64 L434.85 145.03 L436.18 143.21 L437.61 141.19 L439.13 139.01 L440.74 136.69 L442.41 134.26 L444.12 131.75 L445.85 129.21 L447.58 126.66 L449.29 124.16 L450.95 121.74 L452.55 119.44 L454.05 117.3 L455.43 115.38 L456.67 113.69 L457.76 112.28 L458.67 111.19 L459.38 110.44 L459.89 110.05 L460.18 110.06 L460.23 110.46 L460.06 111.28 L459.64 112.51 L459 114.15 L458.13 116.2 L457.03 118.63 L455.74 121.42 L454.25 124.55 L452.59 127.97 L450.78 131.66 L448.86 135.56 L446.84 139.62 L444.76 143.79 L442.65 148.01 L440.54 152.23 L438.47 156.38 L436.48 160.4 L434.59 164.23 L432.84 167.82 L431.26 171.1 L429.89 174.02 L428.75 176.54 L427.86 178.61 L427.25 180.19 L426.93 181.26 L426.92 181.78 L427.22 181.75 L427.85 181.16 L428.8 180 L430.06 178.29 L431.62 176.04 L433.47 173.28 L435.6 170.05 L437.96 166.39 L440.55 162.34 L443.32 157.97 L446.24 153.33 L449.28 148.49 L452.39 143.52 L455.53 138.49 L458.66 133.49 L461.74 128.57 L464.72 123.82 L467.57 119.31 L470.25 115.1 L472.71 111.27 L474.93 107.87 L476.88 104.95 L478.52 102.56 L479.84 100.74 L480.82 99.52 L481.45 98.93 L481.71 98.96 L481.62 99.63 L481.17 100.94 L480.37 102.85 L479.24 105.35 L477.79 108.4 L476.05 111.96 L474.06 115.98 L471.83 120.41 L469.42 125.17 L466.85 130.2 L464.16 135.44 L461.41 140.8 L458.62 146.2 L455.86 151.58 L453.15 156.86 L450.54 161.96 L448.07 166.82 L445.78 171.36 L443.7 175.53 L441.86 179.27 L440.29 182.54 L439.02 185.28 L438.06 187.48 L437.42 189.11 L437.12 190.15 L437.15 190.6 L437.52 190.46 L438.21 189.74 L439.22 188.47 L440.54 186.66 L442.13 184.37 L443.97 181.62 L446.05 178.47 L448.32 174.98 L450.76 171.19 L453.33 167.18 L455.98 163 L458.7 158.73 L461.43 154.42 L464.15 150.14 L466.82 145.95 L469.39 141.92 L471.85 138.1 L474.16 134.54 L476.3 131.28 L478.23 128.38 L479.95 125.86 L481.43 123.76 L482.67 122.08 L483.65 120.86 L484.38 120.09 L484.84 119.78 L485.05 119.92 L485.01 120.49 L484.74 121.48 L484.24 122.87 L483.54 124.61 L482.65 126.68 L481.59 129.04 L480.4 131.65 L479.09 134.46 L477.69 137.43 L476.23 140.51 L474.73 143.65 L473.23 146.82 L471.73 149.95 L470.28 153.02 L468.89 155.98 L467.58 158.79 L466.37 161.42 L465.28 163.85 L464.32 166.04 L463.51 167.97 L462.85 169.64 L462.36 171.02 L462.02 172.11 L461.85 172.92 L461.85 173.43 L462.01 173.66 L462.32 173.62 L462.77 173.33 L463.36 172.79 L464.08 172.04 L464.9 171.09 L465.83 169.97 L466.83 168.7 L467.91 167.32 L469.03 165.85 L470.19 164.31 L471.37 162.74 L472.55 161.17 L473.73 159.6 L474.88 158.08 L475.99 156.63 L477.06 155.25 L478.07 153.98 L479.01 152.82 L479.89 151.79 L480.68 150.9 L481.39 150.16 L482.01 149.57 L482.55 149.13 L483 148.84 L483.37 148.7 L483.65 148.71 L483.86 148.85 L483.99 149.13 L484.05 149.52 L484.05 150.03 L484 150.63 L483.9 151.31 L483.76 152.07 L483.58 152.88 L483.39 153.73 L483.17 154.61 L482.95 155.51 L482.73 156.41 L482.51 157.3 L482.3 158.18 L482.11 159.02 L481.94 159.82 L481.8 160.58 L481.68 161.29 L481.6 161.94 L481.56 162.52 L481.55 163.04 L481.58 163.5 L481.64 163.89 L481.75 164.21 L481.89 164.47 L482.06 164.67 L482.27 164.81 L482.51 164.9 L482.77 164.93 L483.07 164.92 L483.38 164.88 L483.72 164.8 L484.06 164.69 L484.43 164.56 L484.8 164.41 L485.18 164.25 L485.56 164.08 L485.94 163.92 L486.32 163.75 L486.7 163.6 L487.06 163.45 L487.43 163.32 L487.78 163.21 L488.12 163.12 L488.45 163.05 L488.76 163 L489.06 162.97 L489.35 162.97 L489.63 162.99 L489.89 163.04 L490.14 163.11 L490.37 163.19 L490.6 163.3 L490.82 163.43 L491.02 163.58 L491.22 163.73 L491.41 163.91 L491.59 164.09 L491.77 164.28 L491.94 164.48 L492.11 164.69 L492.28 164.9 L492.45 165.11 L492.62 165.32 L492.79 165.53 L492.95 165.74 L493.13 165.94 L493.3 166.14 L493.48 166.34 L493.66 166.53 L493.84 166.71 L494.03 166.89 L494.22 167.05 L494.42 167.22 L494.62 167.37 L494.82 167.52 L495.03 167.66 L495.24 167.8 L495.45 167.93 L495.67 168.05 L495.89 168.17 L496.11 168.29 L496.33 168.4 L496.56 168.51 L496.78 168.62 L497.01 168.72 L497.24 168.82 L497.47 168.93 L497.7 169.03 L497.93 169.13 L498.16 169.23 L498.39 169.34 L498.62 169.44 L498.84 169.54 L499.07 169.65 L499.3 169.76 L499.52 169.87 L499.75 169.98 L499.97 170.09 L500.2 170.2 L500.42 170.32 L500.64 170.43 L500.86 170.55 L501.08 170.67 L501.3 170.79 L501.51 170.92 L501.73 171.04 L501.95 171.16 L502.16 171.29 L502.38 171.42 L502.6 171.54 L502.81 171.67 L503.03 171.8 L503.24 171.93 L503.46 172.05 L503.67 172.18 L503.89 172.31 L504.1 172.44 L504.32 172.56 L504.53 172.69 L504.75 172.82 L504.96 172.94 L505.18 173.07 L505.39 173.2 L505.61 173.32 L505.83 173.45 L506.04 173.57 L506.26 173.7 L506.48 173.82 L506.69 173.95 L506.91 174.07 L507.13 174.19 L507.35 174.32 L507.56 174.44 L507.78 174.56 L508 174.69 L508.22 174.81 L508.43 174.93 L508.65 175.06 L508.87 175.18 L509.09 175.3 L509.3 175.42 L509.52 175.55 L509.74 175.67 L509.96 175.79 L510.18 175.92 L510.39 176.04 L510.61 176.16 L510.83 176.28 L511.05 176.41 L511.26 176.53 L511.48 176.65 L511.7 176.78 L511.92 176.9 L512.13 177.02 L512.35 177.15 L512.57 177.27 L512.79 177.39 L513 177.52 L513.22 177.64 L513.44 177.76 L513.66 177.89 L513.87 178.01 L514.09 178.13 L514.31 178.26 L514.53 178.38 L514.74 178.5 L514.96 178.63 L515.18 178.75 L515.39 178.88 L515.61 179 L515.83 179.12 L516.05 179.25 L516.26 179.37 L516.48 179.49 L516.7 179.62 L516.92 179.74 L517.13 179.86 L517.35 179.99 L517.57 180.11 L517.79 180.23 L518 180.36 L518.22 180.48 L518.44 180.6 L518.66 180.73 L518.87 180.85 L519.09 180.97 L519.31 181.1 L519.52 181.22 L519.74 181.34 L519.96 181.47 L520.18 181.59 L520.39 181.72 L520.61 181.84 L520.83 181.96 L521.05 182.09 L521.26 182.21 L521.48 182.33 L521.7 182.46 L521.92 182.58 L522.13 182.7 L522.35 182.83 L522.57 182.95 L522.79 183.07 L523 183.2 L523.22 183.32 L523.44 183.44 L523.66 183.57 L523.87 183.69 L524.09 183.81 L524.31 183.94 L524.52 184.06 L524.74 184.18 L524.96 184.31 L525.18 184.43 L525.39 184.55 L525.61 184.68 L525.83 184.8 L526.05 184.92 L526.26 185.05 L526.48 185.17 L526.7 185.3 L526.92 185.42 L527.13 185.54 L527.35 185.67 L527.57 185.79 L527.79 185.91 L528 186.04 L528.22 186.16 L528.44 186.28 L528.66 186.41 L528.87 186.53 L529.09 186.65 L529.31 186.78 L529.52 186.9 L529.74 187.02 L529.96 187.15 L530.18 187.27 L530.39 187.39 L530.61 187.52 L530.83 187.64 L531.05 187.76 L531.26 187.89 L531.48 188.01 L531.7 188.13 L531.92 188.26 L532.13 188.38 L532.35 188.5 L532.57 188.63 L532.79 188.75 L533 188.88 L533.22 189 L533.44 189.12 L533.66 189.25 L533.87 189.37 L534.09 189.49 L534.31 189.62 L534.53 189.74 L534.74 189.86 L534.96 189.99 L535.18 190.11 L535.39 190.23 L535.61 190.36 L535.83 190.48 L536.05 190.6 L536.26 190.73 L536.48 190.85 L536.7 190.97 L536.92 191.1 L537.13 191.22 L537.35 191.34 L537.57 191.47 L537.79 191.59 L538 191.71 L538.22 191.84 L538.44 191.96 L538.66 192.08 L538.87 192.21 L539.09 192.33 L539.31 192.46 L539.53 192.58 L539.74 192.7 L539.96 192.83 L540.18 192.95 L540.39 193.07 L540.61 193.2 L540.83 193.32 L541.05 193.44 L541.26 193.57 L541.48 193.69" fill="none" stroke="#ff1a1a" stroke-width="1.4" stroke-linejoin="round"/>
<path d="M628.75 206 L628.97 205.88 L629.18 205.75 L629.4 205.63 L629.62 205.5 L629.84 205.38 L630.05 205.26 L630.27 205.13 L630.49 205.01 L630.7 204.88 L630.92 204.76 L631.14 204.64 L631.35 204.51 L631.57 204.39 L631.79 204.26 L632.01 204.14 L632.22 204.02 L632.44 203.89 L632.66 203.77 L632.87 203.64 L633.09 203.52 L633.31 203.4 L633.53 203.27 L633.74 203.15 L633.96 203.02 L634.18 202.9 L634.39 202.78 L634.61 202.65 L634.83 202.53 L635.05 202.4 L635.26 202.28 L635.48 202.16 L635.7 202.03 L635.91 201.91 L636.13 201.78 L636.35 201.66 L636.56 201.54 L636.78 201.41 L637 201.29 L637.22 201.16 L637.43 201.04 L637.65 200.92 L637.87 200.79 L638.08 200.67 L638.3 200.54 L638.52 200.42 L638.74 200.3 L638.95 200.17 L639.17 200.05 L639.39 199.92 L639.6 199.8 L639.82 199.68 L640.04 199.55 L640.25 199.43 L640.47 199.3 L640.69 199.18 L640.91 199.06 L641.12 198.93 L641.34 198.81 L641.56 198.68 L641.77 198.56 L641.99 198.44 L642.21 198.31 L642.43 198.19 L642.64 198.06 L642.86 197.94 L643.08 197.82 L643.29 197.69 L643.51 197.57 L643.73 197.44 L643.95 197.32 L644.16 197.2 L644.38 197.07 L644.6 196.95 L644.81 196.82 L645.03 196.7 L645.25 196.58 L645.46 196.45 L645.68 196.33 L645.9 196.2 L646.12 196.08 L646.33 195.96 L646.55 195.83 L646.77 195.71 L646.98 195.58 L647.2 195.46 L647.42 195.34 L647.64 195.21 L647.85 195.09 L648.07 194.96 L648.29 194.84 L648.5 194.72 L648.72 194.59 L648.94 194.47 L649.16 194.34 L649.37 194.22 L649.59 194.1 L649.81 193.97 L650.02 193.85 L650.24 193.72 L650.46 193.6 L650.67 193.48 L650.89 193.35 L651.11 193.23 L651.33 193.1 L651.54 192.98 L651.76 192.85 L651.98 192.73 L652.19 192.61 L652.41 192.48 L652.63 192.36 L652.85 192.23 L653.06 192.11 L653.28 191.99 L653.5 191.86 L653.71 191.74 L653.93 191.61 L654.15 191.49 L654.36 191.37 L654.58 191.24 L654.8 191.12 L655.02 190.99 L655.23 190.87 L655.45 190.75 L655.67 190.62 L655.88 190.5 L656.1 190.37 L656.32 190.25 L656.54 190.13 L656.75 190 L656.97 189.88 L657.19 189.75 L657.4 189.63 L657.62 189.51 L657.84 189.38 L658.06 189.26 L658.27 189.13 L658.49 189.01 L658.71 188.89 L658.92 188.76 L659.14 188.64 L659.36 188.51 L659.57 188.39 L659.79 188.27 L660.01 188.14 L660.23 188.02 L660.44 187.89 L660.66 187.77 L660.88 187.65 L661.09 187.52 L661.31 187.4 L661.53 187.27 L661.75 187.15 L661.96 187.03 L662.18 186.9 L662.4 186.78 L662.61 186.65 L662.83 186.53 L663.05 186.41 L663.26 186.28 L663.48 186.16 L663.7 186.03 L663.92 185.91 L664.13 185.79 L664.35 185.66 L664.57 185.54 L664.78 185.41 L665 185.29 L665.22 185.17 L665.44 185.04 L665.65 184.92 L665.87 184.79 L666.09 184.67 L666.3 184.55 L666.52 184.42 L666.74 184.3 L666.96 184.17 L667.17 184.05 L667.39 183.93 L667.61 183.8 L667.82 183.68 L668.04 183.55 L668.26 183.43 L668.47 183.31 L668.69 183.18 L668.91 183.06 L669.13 182.93 L669.34 182.81 L669.56 182.69 L669.78 182.56 L669.99 182.44 L670.21 182.31 L670.43 182.19 L670.65 182.07 L670.86 181.94 L671.08 181.82 L671.3 181.69 L671.51 181.57 L671.73 181.45 L671.95 181.32 L672.17 181.2 L672.38 181.07 L672.6 180.95 L672.82 180.83 L673.03 180.7 L673.25 180.58 L673.47 180.45 L673.68 180.33 L673.9 180.21 L674.12 180.08 L674.34 179.96 L674.55 179.83 L674.77 179.71 L674.99 179.59 L675.2 179.46 L675.42 179.34 L675.64 179.21 L675.86 179.09 L676.07 178.97 L676.29 178.84 L676.51 178.72 L676.72 178.59 L676.94 178.47 L677.16 178.35 L677.37 178.22 L677.59 178.1 L677.81 177.97 L678.03 177.85 L678.24 177.73 L678.46 177.6 L678.68 177.48 L678.89 177.35 L679.11 177.23 L679.33 177.11 L679.55 176.98 L679.76 176.86 L679.98 176.73 L680.2 176.61 L680.41 176.49 L680.63 176.36 L680.85 176.24 L681.07 176.11 L681.28 175.99 L681.5 175.87 L681.72 175.74 L681.93 175.62 L682.15 175.49 L682.37 175.37 L682.58 175.25 L682.8 175.12 L683.02 175 L683.24 174.87 L683.45 174.75 L683.67 174.63 L683.89 174.5 L684.1 174.38 L684.32 174.25 L684.54 174.13 L684.76 174.01 L684.97 173.88 L685.19 173.76 L685.41 173.63 L685.62 173.51 L685.84 173.39 L686.06 173.26 L686.27 173.14 L686.49 173.01 L686.71 172.89 L686.93 172.77 L687.14 172.64 L687.36 172.52 L687.58 172.39 L687.79 172.27 L688.01 172.15 L688.23 172.02 L688.45 171.9 L688.66 171.77 L688.88 171.65 L689.1 171.53 L689.31 171.4 L689.53 171.28 L689.75 171.15 L689.97 171.03 L690.18 170.91 L690.4 170.78 L690.62 170.66 L690.83 170.53 L691.05 170.41 L691.27 170.29 L691.49 170.16 L691.7 170.04 L691.92 169.91 L692.14 169.79 L692.35 169.67 L692.57 169.54 L692.79 169.42 L693 169.29 L693.22 169.17 L693.44 169.04 L693.65 168.92 L693.87 168.8 L694.09 168.67 L694.31 168.55 L694.52 168.42 L694.74 168.3 L694.96 168.18 L695.18 168.06 L695.39 167.93 L695.61 167.81 L695.83 167.69 L696.05 167.56 L696.26 167.44 L696.48 167.31 L696.69 167.19 L696.91 167.06 L697.13 166.93 L697.34 166.81 L697.56 166.68 L697.77 166.55 L697.99 166.43 L698.21 166.31 L698.43 166.18 L698.65 166.06 L698.87 165.95 L699.09 165.83 L699.31 165.71 L699.53 165.59 L699.75 165.48 L699.97 165.36 L700.18 165.23 L700.4 165.1 L700.61 164.97 L700.82 164.83 L701.03 164.7 L701.24 164.55 L701.45 164.41 L701.65 164.27 L701.86 164.14 L702.08 164.01 L702.3 163.89 L702.52 163.78 L702.75 163.68 L702.99 163.59 L703.23 163.5 L703.47 163.42 L703.71 163.33 L703.94 163.24 L704.17 163.13 L704.38 163.01 L704.59 162.86 L704.79 162.7 L704.97 162.52 L705.14 162.32 L705.31 162.11 L705.48 161.9 L705.66 161.7 L705.84 161.53 L706.05 161.38 L706.27 161.27 L706.52 161.21 L706.8 161.19 L707.1 161.2 L707.41 161.24 L707.72 161.29 L708.04 161.33 L708.33 161.34 L708.59 161.3 L708.82 161.19 L708.99 160.99 L709.12 160.71 L709.2 160.35 L709.25 159.93 L709.27 159.47 L709.3 159.01 L709.35 158.59 L709.44 158.25 L709.6 158.03 L709.85 157.95 L710.18 158.04 L710.61 158.28 L711.11 158.65 L711.66 159.11 L712.24 159.62 L712.79 160.08 L713.28 160.44 L713.67 160.62 L713.93 160.56 L714.02 160.22 L713.96 159.6 L713.74 158.72 L713.41 157.64 L713.01 156.44 L712.61 155.23 L712.29 154.16 L712.1 153.33 L712.12 152.86 L712.39 152.83 L712.94 153.29 L713.75 154.2 L714.79 155.52 L715.98 157.1 L717.23 158.79 L718.43 160.37 L719.45 161.65 L720.18 162.43 L720.54 162.56 L720.47 161.93 L719.96 160.54 L719.06 158.45 L717.84 155.82 L716.46 152.9 L715.08 149.97 L713.87 147.36 L713.03 145.37 L712.69 144.29 L712.98 144.29 L713.94 145.47 L715.54 147.76 L717.68 151 L720.18 154.87 L722.82 158.98 L725.32 162.86 L727.43 166.04 L728.88 168.09 L729.51 168.68 L729.18 167.61 L727.9 164.87 L725.77 160.62 L722.98 155.24 L719.83 149.22 L716.68 143.2 L713.89 137.82 L711.85 133.74 L710.84 131.47 L711.08 131.38 L712.63 133.6 L715.44 138.01 L719.29 144.24 L723.83 151.68 L728.62 159.57 L733.17 167.02 L736.97 173.18 L739.6 177.27 L740.71 178.71 L740.12 177.18 L737.85 172.7 L734.08 165.6 L729.18 156.52 L723.67 146.37 L718.15 136.21 L713.26 127.14 L709.59 120.21 L707.63 116.26 L707.67 115.84 L709.83 119.11 L713.97 125.85 L719.73 135.43 L726.56 146.89 L733.78 159.02 L740.62 170.48 L746.34 180 L750.31 186.45 L752.06 189.01 L751.36 187.28 L748.24 181.31 L743 171.64 L736.18 159.2 L728.52 145.28 L720.85 131.35 L714.04 118.92 L708.86 109.36 L705.95 103.76 L705.68 102.78 L708.15 106.59 L713.15 114.85 L720.22 126.71 L728.62 140.92 L737.49 155.94 L745.9 170.16 L752.95 181.99 L757.89 190.13 L760.19 193.66 L759.61 192.14 L756.22 185.71 L750.4 175.02 L742.8 161.2 L734.25 145.73 L725.7 130.26 L718.09 116.45 L712.28 105.76 L708.89 99.32 L708.31 97.81 L710.61 101.33 L715.55 109.47 L722.6 121.31 L731.01 135.52 L739.88 150.54 L748.28 164.75 L755.34 176.61 L760.35 184.87 L762.82 188.69 L762.55 187.71 L759.63 182.1 L754.46 172.54 L747.65 160.11 L739.98 146.18 L732.31 132.26 L725.5 119.83 L720.26 110.15 L717.13 104.18 L716.43 102.45 L718.19 105.01 L722.16 111.46 L727.88 120.98 L734.72 132.45 L741.94 144.57 L748.77 156.03 L754.53 165.61 L758.67 172.35 L760.83 175.62 L760.87 175.2 L758.9 171.25 L755.23 164.32 L750.34 155.26 L744.82 145.09 L739.31 134.94 L734.42 125.87 L730.65 118.76 L728.37 114.28 L727.79 112.76 L728.9 114.19 L731.52 118.28 L735.33 124.44 L739.88 131.89 L744.67 139.78 L749.21 147.22 L753.05 153.45 L755.86 157.86 L757.42 160.08 L757.66 159.99 L756.65 157.73 L754.6 153.64 L751.82 148.27 L748.67 142.24 L745.52 136.22 L742.73 130.84 L740.59 126.6 L739.31 123.85 L738.99 122.78 L739.61 123.37 L741.07 125.42 L743.18 128.6 L745.68 132.48 L748.32 136.59 L750.82 140.46 L752.96 143.7 L754.55 146 L755.51 147.17 L755.8 147.17 L755.47 146.09 L754.63 144.11 L753.42 141.49 L752.03 138.56 L750.65 135.64 L749.44 133.01 L748.54 130.93 L748.03 129.53 L747.96 128.91 L748.32 129.03 L749.05 129.81 L750.07 131.09 L751.26 132.68 L752.51 134.36 L753.71 135.94 L754.74 137.26 L755.56 138.18 L756.1 138.63 L756.38 138.6 L756.4 138.13 L756.21 137.31 L755.88 136.23 L755.49 135.03 L755.09 133.83 L754.76 132.74 L754.54 131.86 L754.47 131.24 L754.57 130.91 L754.82 130.85 L755.21 131.02 L755.71 131.38 L756.26 131.85 L756.83 132.35 L757.39 132.81 L757.89 133.19 L758.31 133.43 L758.65 133.51 L758.89 133.43 L759.05 133.21 L759.15 132.87 L759.2 132.45 L759.22 131.99 L759.25 131.53 L759.3 131.11 L759.38 130.75 L759.51 130.47 L759.68 130.28 L759.91 130.16 L760.17 130.12 L760.46 130.13 L760.77 130.17 L761.09 130.22 L761.4 130.26 L761.7 130.28 L761.97 130.25 L762.22 130.19 L762.45 130.08 L762.65 129.94 L762.84 129.76 L763.02 129.56 L763.19 129.35 L763.35 129.15 L763.53 128.95 L763.71 128.76 L763.91 128.6 L764.11 128.46 L764.33 128.33 L764.56 128.23 L764.79 128.13 L765.03 128.05 L765.27 127.96 L765.51 127.87 L765.74 127.78 L765.97 127.68 L766.2 127.57 L766.42 127.45 L766.63 127.32 L766.84 127.19 L767.05 127.05 L767.26 126.91 L767.47 126.77 L767.67 126.63 L767.88 126.49 L768.1 126.36 L768.31 126.23 L768.53 126.11 L768.75 125.99 L768.97 125.87 L769.19 125.75 L769.41 125.63 L769.63 125.52 L769.85 125.4 L770.07 125.28 L770.29 125.16 L770.51 125.03 L770.72 124.91 L770.94 124.78 L771.16 124.66 L771.37 124.53 L771.59 124.4 L771.8 124.28 L772.02 124.15 L772.23 124.03 L772.45 123.9 L772.67 123.78 L772.89 123.65 L773.1 123.53 L773.32 123.41 L773.54 123.28 L773.76 123.16 L773.97 123.04 L774.19 122.91 L774.41 122.79 L774.63 122.67 L774.84 122.54 L775.06 122.42 L775.28 122.29 L775.49 122.17 L775.71 122.05 L775.93 121.92 L776.14 121.8 L776.36 121.67 L776.58 121.55 L776.79 121.42 L777.01 121.3 L777.23 121.18 L777.45 121.05 L777.66 120.93 L777.88 120.81 L778.1 120.68 L778.31 120.56 L778.53 120.43 L778.75 120.31 L778.97 120.19 L779.18 120.06 L779.4 119.94 L779.62 119.81 L779.83 119.69 L780.05 119.57 L780.27 119.44 L780.49 119.32 L780.7 119.19 L780.92 119.07 L781.14 118.95 L781.35 118.82 L781.57 118.7 L781.79 118.57 L782.01 118.45 L782.22 118.33 L782.44 118.2 L782.66 118.08 L782.87 117.95 L783.09 117.83 L783.31 117.71 L783.52 117.58 L783.74 117.46 L783.96 117.33 L784.18 117.21 L784.39 117.09 L784.61 116.96 L784.83 116.84 L785.04 116.71 L785.26 116.59 L785.48 116.47 L785.7 116.34 L785.91 116.22 L786.13 116.09 L786.35 115.97 L786.56 115.84 L786.78 115.72 L787 115.6 L787.21 115.47 L787.43 115.35 L787.65 115.22 L787.87 115.1 L788.08 114.98 L788.3 114.85 L788.52 114.73 L788.73 114.6 L788.95 114.48 L789.17 114.36 L789.39 114.23 L789.6 114.11 L789.82 113.98 L790.04 113.86 L790.25 113.74 L790.47 113.61 L790.69 113.49 L790.91 113.36 L791.12 113.24 L791.34 113.12 L791.56 112.99 L791.77 112.87 L791.99 112.74 L792.21 112.62 L792.42 112.5 L792.64 112.37 L792.86 112.25 L793.08 112.12 L793.29 112 L793.51 111.88 L793.73 111.75 L793.94 111.63 L794.16 111.5 L794.38 111.38 L794.6 111.26 L794.81 111.13 L795.03 111.01 L795.25 110.88 L795.46 110.76 L795.68 110.64 L795.9 110.51 L796.11 110.39 L796.33 110.26 L796.55 110.14 L796.77 110.02 L796.98 109.89 L797.2 109.77 L797.42 109.64 L797.63 109.52 L797.85 109.4 L798.07 109.27 L798.29 109.15 L798.5 109.02 L798.72 108.9 L798.94 108.78 L799.15 108.65 L799.37 108.53 L799.59 108.4 L799.81 108.28 L800.02 108.16 L800.24 108.03 L800.46 107.91 L800.67 107.78 L800.89 107.66 L801.11 107.54 L801.32 107.41 L801.54 107.29 L801.76 107.16 L801.98 107.04 L802.19 106.92 L802.41 106.79 L802.63 106.67 L802.84 106.54 L803.06 106.42 L803.28 106.3 L803.5 106.17 L803.71 106.05 L803.93 105.92 L804.15 105.8 L804.36 105.68 L804.58 105.55 L804.8 105.43 L805.02 105.3 L805.23 105.18 L805.45 105.06 L805.67 104.93 L805.88 104.81 L806.1 104.68 L806.32 104.56 L806.53 104.44 L806.75 104.31 L806.97 104.19 L807.19 104.06 L807.4 103.94 L807.62 103.82 L807.84 103.69 L808.05 103.57 L808.27 103.44 L808.49 103.32 L808.71 103.2 L808.92 103.07 L809.14 102.95 L809.36 102.82 L809.57 102.7 L809.79 102.58 L810.01 102.45 L810.22 102.33 L810.44 102.2 L810.66 102.08 L810.88 101.96 L811.09 101.83 L811.31 101.71 L811.53 101.58 L811.74 101.46 L811.96 101.34 L812.18 101.21 L812.4 101.09 L812.61 100.96 L812.83 100.84 L813.05 100.72 L813.26 100.59 L813.48 100.47 L813.7 100.34 L813.92 100.22 L814.13 100.1 L814.35 99.97 L814.57 99.85 L814.78 99.72" fill="none" stroke="#0a0aff" stroke-width="1.7" stroke-linejoin="round"/>
<path d="M543.8 187.3 L553.3 201 H535.6 Z" fill="#ff0000"/>
<path d="M530.2 197.8 L540.3 212.6 H521.6 Z" fill="#0a960a"/>
<path d="M809.3 93.2 H826.3 L817.8 107.5 Z" fill="#0000ff"/>
<path d="M732.5 282.7 H661.6 L630.6 228.6" fill="none" stroke="#ff4b0f" stroke-width="6.6" stroke-linejoin="round"/>
<path d="M631.2 248 L630.2 228 L648 237.6" fill="none" stroke="#ff4b0f" stroke-width="6.6" stroke-linejoin="round" stroke-linecap="round"/>
<text x="735" y="291.5" font-size="29.2" fill="#ff0000" font-family="'Liberation Sans', 'Noto Sans CJK SC', sans-serif">近接场光</text>
<text transform="translate(483.5 149.5) skewX(-6)" font-size="29" fill="#ff0000" stroke="#ff0000" stroke-width="0.75" font-family="'Liberation Serif', serif" font-weight="bold" font-style="italic">ω</text><text transform="translate(505.97 155) scale(0.94 1)" font-size="20.5" fill="#ff0000" stroke="#ff0000" stroke-width="0.45" letter-spacing="-0.5" font-family="'Liberation Serif', serif" font-weight="bold">MIR</text>
<text transform="translate(368.5 208.7) skewX(-6)" font-size="29" fill="#0a960a" stroke="#0a960a" stroke-width="0.75" font-family="'Liberation Serif', serif" font-weight="bold" font-style="italic">ω</text><text transform="translate(390.97 214.2) scale(1 1)" font-size="20.5" fill="#0a960a" stroke="#0a960a" stroke-width="0.45" letter-spacing="-0.5" font-family="'Liberation Serif', serif" font-weight="bold">NIR</text>
<text transform="translate(678 84) skewX(-6)" font-size="29" fill="#0040ff" stroke="#0040ff" stroke-width="0.75" font-family="'Liberation Serif', serif" font-weight="bold" font-style="italic">ω</text><text transform="translate(700.47 89.5) scale(0.95 1)" font-size="20.5" fill="#0040ff" stroke="#0040ff" stroke-width="0.45" letter-spacing="-0.5" font-family="'Liberation Serif', serif" font-weight="bold">SFG</text>
</g>
<g id="panel-b">
<text x="4" y="352.5" font-size="37.5" font-weight="bold" fill="#333" font-family="'Liberation Sans', sans-serif">b</text>
<g clip-path="url(#semclip)">
<rect x="50" y="333" width="190" height="352" fill="#6c6c6c"/>
<rect x="56" y="339" width="46" height="300" fill="#000" fill-opacity="0.06" filter="url(#b6)"/>
<g filter="url(#b07)">
<path d="M98.1 320 L98.1 339 L98.4 420 L99.5 500 L100.8 540 L103.4 580 L106.3 612 C104.5 622 106 632 109.5 637.5 C113 642.5 120.5 642.5 124 636.5 L128 630.5 L134.6 617.6 L135.7 607 L146.4 580 L159.8 540 L173.2 500 L218.6 339 L224 320 Z" fill="url(#semtip)"/>
<g clip-path="url(#tipclip)">
<path d="M98.1 320 L98.1 339 L98.4 420 L99.5 500 L100.8 540 L103.4 580 L106.3 612 C104.5 622 106 632 109.5 637.5 C113 642.5 120.5 642.5 124 636.5" fill="none" stroke="#fff" stroke-opacity="0.08" stroke-width="40" filter="url(#b3)"/>
<path d="M98.1 320 L98.1 339 L98.4 420 L99.5 500 L100.8 540 L103.4 580 L106.3 612 C104.5 622 106 632 109.5 637.5 C113 642.5 120.5 642.5 124 636.5" fill="none" stroke="#fff" stroke-opacity="0.3" stroke-width="11" filter="url(#b2)"/>
<path d="M98.1 320 L98.1 339 L98.4 420 L99.5 500 L100.8 540 L103.4 580 L106.3 612 C104.5 622 106 632 109.5 637.5 C113 642.5 120.5 642.5 124 636.5" fill="none" stroke="#fff" stroke-opacity="0.85" stroke-width="5" filter="url(#b1)"/>
<path d="M116 641 C120 641 122 639.5 124 636.5 L128 630.5 L134.6 617.6 L135.7 607 L146.4 580 L159.8 540 L173.2 500 L218.6 339 L224 320" fill="none" stroke="#e0e0e0" stroke-opacity="0.28" stroke-width="8" filter="url(#b2)"/>
<path d="M116 641 C120 641 122 639.5 124 636.5 L128 630.5 L134.6 617.6 L135.7 607 L146.4 580 L159.8 540 L173.2 500 L201.4 400" fill="none" stroke="url(#rlowg)" stroke-width="11" filter="url(#b2)"/>
<path d="M116 641 C120 641 122 639.5 124 636.5 L128 630.5 L134.6 617.6 L135.7 607 L146.4 580 L159.8 540 L173.2 500 L218.6 339 L224 320" fill="none" stroke="#e6e6e6" stroke-opacity="0.62" stroke-width="3" filter="url(#b1)"/>
<ellipse cx="116" cy="628" rx="9" ry="10" fill="#fff" fill-opacity="0.2" filter="url(#b3)"/>
<ellipse cx="118" cy="548" rx="6" ry="7" fill="#000" fill-opacity="0.12" filter="url(#b3)"/>
<ellipse cx="127" cy="564" rx="7" ry="8" fill="#000" fill-opacity="0.16" filter="url(#b3)"/>
<ellipse cx="168" cy="390" rx="12" ry="40" fill="#000" fill-opacity="0.05" filter="url(#b6)"/>
</g>
</g>
<rect x="56" y="339" width="178" height="340" filter="url(#noise)" opacity="0.28"/>
</g>
<rect x="123.5" y="645.6" width="6" height="22.2" fill="#fff"/>
<text x="132.6" y="667" font-size="29.4" fill="#fff" font-family="'Liberation Sans', sans-serif">100 nm</text>
</g>
<g id="panel-d">
<text x="342" y="352" font-size="37.5" font-weight="bold" fill="#333" font-family="'Liberation Sans', sans-serif">d</text>
<rect x="398" y="389.6" width="414.8" height="240" fill="none" stroke="#000" stroke-width="2.4"/>
<path d="M398 606.25 h11.5 M812.8 606.25 h-11.5M398 570.12 h6 M812.8 570.12 h-6M398 534 h11.5 M812.8 534 h-11.5M398 497.88 h6 M812.8 497.88 h-6M398 461.75 h11.5 M812.8 461.75 h-11.5M398 425.62 h6 M812.8 425.62 h-6M398 389.5 h11.5 M812.8 389.5 h-11.5M402 629.6 v-6.5M424.5 629.6 v-6.5M447 629.6 v-12M469.5 629.6 v-6.5M492 629.6 v-6.5M514.5 629.6 v-6.5M537 629.6 v-6.5M559.5 629.6 v-12M582 629.6 v-6.5M604.5 629.6 v-6.5M627 629.6 v-6.5M649.5 629.6 v-6.5M672 629.6 v-12M694.5 629.6 v-6.5M717 629.6 v-6.5M739.5 629.6 v-6.5M762 629.6 v-6.5M784.5 629.6 v-12M807 629.6 v-6.5M408.6 389.6 v6M426.5 389.6 v6M444.4 389.6 v6M462.3 389.6 v6M480.2 389.6 v12M498.1 389.6 v6M516 389.6 v6M533.9 389.6 v6M551.8 389.6 v6M569.7 389.6 v12M587.6 389.6 v6M605.5 389.6 v6M623.4 389.6 v6M641.3 389.6 v6M659.2 389.6 v12M677.1 389.6 v6M695 389.6 v6M712.9 389.6 v6M730.8 389.6 v6M748.7 389.6 v12M766.6 389.6 v6M784.5 389.6 v6M802.4 389.6 v6" stroke="#000" stroke-width="2.2" fill="none"/>
<text x="389" y="615.45" font-size="26.4" text-anchor="end" fill="#000" font-family="'Liberation Sans', sans-serif">0</text>
<text x="389" y="543.2" font-size="26.4" text-anchor="end" fill="#000" font-family="'Liberation Sans', sans-serif">20</text>
<text x="389" y="470.95" font-size="26.4" text-anchor="end" fill="#000" font-family="'Liberation Sans', sans-serif">40</text>
<text x="389" y="398.7" font-size="26.4" text-anchor="end" fill="#000" font-family="'Liberation Sans', sans-serif">60</text>
<text x="446.7" y="662.3" font-size="26.4" text-anchor="middle" fill="#000" font-family="'Liberation Sans', sans-serif">2850</text>
<text x="559.2" y="662.3" font-size="26.4" text-anchor="middle" fill="#000" font-family="'Liberation Sans', sans-serif">2900</text>
<text x="671.7" y="662.3" font-size="26.4" text-anchor="middle" fill="#000" font-family="'Liberation Sans', sans-serif">2950</text>
<text x="784.2" y="662.3" font-size="26.4" text-anchor="middle" fill="#000" font-family="'Liberation Sans', sans-serif">3000</text>
<text x="481.2" y="376" font-size="26.4" text-anchor="middle" fill="#000" font-family="'Liberation Sans', sans-serif">797.5</text>
<text x="570.7" y="376" font-size="26.4" text-anchor="middle" fill="#000" font-family="'Liberation Sans', sans-serif">795</text>
<text x="660.2" y="376" font-size="26.4" text-anchor="middle" fill="#000" font-family="'Liberation Sans', sans-serif">792.5</text>
<text x="749.7" y="376" font-size="26.4" text-anchor="middle" fill="#000" font-family="'Liberation Sans', sans-serif">790</text>
<text x="514.2" y="346.8" font-size="29.05" fill="#000" font-family="'Liberation Sans', sans-serif" xml:space="preserve">SFG</text><text x="573.92" y="346.8" font-size="29.05" fill="#000" font-family="'Liberation Sans', 'Noto Sans CJK SC', sans-serif">波长</text><text x="632.02" y="346.8" font-size="29.05" fill="#000" font-family="'Liberation Sans', sans-serif" xml:space="preserve"> / nm</text>
<text x="512.2" y="696.2" font-size="28.75" fill="#000" font-family="'Liberation Sans', 'Noto Sans CJK SC', sans-serif">红外波数</text><text x="627.2" y="696.2" font-size="28.75" fill="#000" font-family="'Liberation Sans', sans-serif" xml:space="preserve"> / cm</text>
<text x="689.79" y="686" font-size="17.5" fill="#000" font-family="'Liberation Sans', sans-serif">-1</text>
<g transform="rotate(-90 347.6 563.3)"><text x="347.6" y="563.3" font-size="28.7" fill="#000" font-family="'Liberation Sans', sans-serif" xml:space="preserve">SFG</text><text x="406.6" y="563.3" font-size="28.7" fill="#000" font-family="'Liberation Sans', 'Noto Sans CJK SC', sans-serif">强度</text></g>
<text x="424.3" y="448.6" font-size="25.1" fill="#111" font-family="'Liberation Sans', 'Noto Sans CJK SC', sans-serif">探针基板间距</text>
<line x1="435" y1="475.5" x2="476.3" y2="475.5" stroke="#ff0000" stroke-width="3"/>
<line x1="435" y1="500" x2="476.3" y2="500" stroke="#12a812" stroke-width="3"/>
<text x="486.5" y="482.6" font-size="21.6" fill="#000" font-family="'Liberation Sans', sans-serif">0.7 nm</text>
<text x="486.5" y="507.2" font-size="21.6" fill="#000" font-family="'Liberation Sans', sans-serif">30 nm</text>
<path d="M401 605.86 L402.5 605.95 L404 606.04 L405.5 606.18 L407 606.4 L408.5 606.71 L410 607.06 L411.5 607.37 L413 607.56 L414.5 607.59 L416 607.44 L417.5 607.2 L419 606.98 L420.5 606.89 L422 607 L423.5 607.33 L425 607.79 L426.5 608.26 L428 608.61 L429.5 608.72 L431 608.57 L432.5 608.18 L434 607.64 L435.5 607.07 L437 606.55 L438.5 606.14 L440 605.83 L441.5 605.58 L443 605.35 L444.5 605.13 L446 604.94 L447.5 604.84 L449 604.89 L450.5 605.13 L452 605.54 L453.5 606.05 L455 606.53 L456.5 606.86 L458 606.96 L459.5 606.82 L461 606.51 L462.5 606.14 L464 605.84 L465.5 605.72 L467 605.82 L468.5 606.09 L470 605.37 L471.5 605.69 L473 605.89 L474.5 605.93 L476 605.82 L477.5 605.64 L479 605.44 L480.5 605.27 L482 605.14 L483.5 605.02 L485 604.87 L486.5 604.64 L488 604.34 L489.5 604.04 L491 603.83 L492.5 603.8 L494 604.01 L495.5 604.44 L497 605.01 L498.5 605.58 L500 606.01 L501.5 606.18 L503 606.06 L504.5 605.68 L506 605.14 L507.5 604.58 L509 604.1 L510.5 603.76 L512 603.54 L513.5 603.39 L515 603.25 L516.5 603.06 L518 602.82 L519.5 602.57 L521 602.36 L522.5 602.24 L524 602.22 L525.5 602.26 L527 602.3 L528.5 602.25 L530 602.05 L531.5 601.72 L533 601.33 L534.5 600.98 L536 600.81 L537.5 600.9 L539 601.27 L540.5 601.84 L542 602.48 L543.5 603.07 L545 603.46 L546.5 603.6 L548 603.51 L549.5 603.25 L551 602.9 L552.5 602.56 L554 602.26 L555.5 601.99 L557 601.71 L558.5 601.39 L560 601.01 L561.5 600.62 L563 600.27 L564.5 600.06 L566 600.04 L567.5 600.19 L569 600.46 L570.5 600.73 L572 600.88 L573.5 600.83 L575 600.55 L576.5 600.1 L578 599.61 L579.5 599.19 L581 598.97 L582.5 598.97 L584 599.18 L585.5 599.5 L587 599.82 L588.5 600.04 L590 600.12 L591.5 600.06 L593 599.91 L594.5 599.74 L596 599.58 L597.5 599.44 L599 599.28 L600.5 599.06 L602 598.74 L603.5 598.33 L605 597.91 L606.5 597.58 L608 597.45 L609.5 597.59 L611 598.02 L612.5 598.66 L614 599.38 L615.5 600.04 L617 600.52 L618.5 600.75 L620 600.76 L621.5 600.64 L623 600.49 L624.5 600.42 L626 600.47 L627.5 600.62 L629 600.82 L630.5 601 L632 601.1 L633.5 601.11 L635 601.07 L636.5 601.02 L638 601.03 L639.5 601.09 L641 601.18 L642.5 601.22 L644 601.13 L645.5 600.86 L647 600.41 L648.5 599.86 L650 599.34 L651.5 598.99 L653 598.92 L654.5 599.16 L656 599.66 L657.5 600.32 L659 601 L660.5 601.57 L662 601.96 L663.5 602.17 L665 602.25 L666.5 602.27 L668 602.31 L669.5 602.39 L671 602.49 L672.5 602.56 L674 602.55 L675.5 602.47 L677 602.33 L678.5 602.22 L680 602.21 L681.5 602.37 L683 602.71 L684.5 603.16 L686 603.61 L687.5 603.95 L689 604.09 L690.5 603.99 L692 603.71 L693.5 603.37 L695 603.09 L696.5 602.99 L698 603.14 L699.5 603.5 L701 604 L702.5 604.53 L704 604.99 L705.5 605.33 L707 605.54 L708.5 605.66 L710 605.73 L711.5 605.79 L713 605.82 L714.5 605.79 L716 605.62 L717.5 605.27 L719 604.77 L720.5 604.18 L722 603.6 L723.5 603.18 L725 603 L726.5 603.1 L728 603.42 L729.5 603.86 L731 604.28 L732.5 604.57 L734 604.66 L735.5 604.57 L737 604.38 L738.5 604.21 L740 604.14 L741.5 604.23 L743 604.46 L744.5 604.79 L746 605.12 L747.5 605.42 L749 605.66 L750.5 605.86 L752 606.07 L753.5 606.33 L755 606.65 L756.5 606.97 L758 607.21 L759.5 607.27 L761 607.09 L762.5 606.66 L764 606.06 L765.5 605.41 L767 604.85 L768.5 604.52 L770 604.48 L771.5 604.69 L773 605.06 L774.5 605.48 L776 605.83 L777.5 606.04 L779 606.1 L780.5 606.06 L782 605.99 L783.5 605.95 L785 605.96 L786.5 605.98 L788 605.98 L789.5 605.9 L791 605.72 L792.5 605.48 L794 605.24 L795.5 605.09 L797 605.1 L798.5 605.28 L800 605.57 L801.5 605.87 L803 606.06 L804.5 606.03 L806 605.75" fill="none" stroke="#12a812" stroke-width="3" stroke-linejoin="round" stroke-linecap="round"/>
<path d="M401.25 605 L403.12 603.63 L405 602.5 L406.88 602.91 L408.75 603 L411.25 601.25 L413.12 603.98 L415 604.5 L416.67 604.74 L418.33 605.19 L420 605.5 L421.88 605.23 L423.75 604.5 L425.62 605.18 L427.5 607.5 L429.17 607.53 L430.83 607.84 L432.5 607.5 L434.17 609.26 L435.83 608.44 L437.5 610.5 L439.38 608.49 L441.25 607.5 L443.12 604.19 L445 603 L446.88 605.06 L448.75 605.5 L450.62 606.75 L452.5 607 L454.38 603.56 L456.25 602.5 L457.92 602.25 L459.58 600.71 L461.25 598 L463.75 602 L465.62 601.4 L467.5 600 L469.38 601.8 L471.25 603 L473.38 598.11 L475.5 595 L477.12 594.99 L478.75 597.5 L480.62 595.07 L482.5 592.5 L484.38 589.48 L486.25 588.75 L488.12 588.57 L490 590 L491.88 586.83 L493.75 585 L495.62 580.65 L497.5 578.75 L499.38 579.28 L501.25 580 L503.12 576.72 L505 573.75 L506.88 572.77 L508.75 570 L511.25 572.5 L513.12 568.8 L515 565 L516.88 563.49 L518.75 561.25 L521.25 564.5 L523.12 559.12 L525 553.75 L526.88 556.05 L528.75 557.5 L530.38 551.14 L532 545 L534.12 546.92 L536.25 550 L538.12 546.92 L540 541.25 L541.67 538.79 L543.33 534.63 L545 530 L548 537.5 L549.62 540.54 L551.25 542.5 L553.12 537.02 L555 532.5 L557.5 530 L559.38 532.42 L561.25 536.25 L563.75 531.25 L566.25 536.25 L568.75 532.5 L571.25 538.75 L573.12 536.58 L575 535.5 L576.88 533.88 L578.75 534.5 L580.62 533.57 L582.5 531.25 L585 532.5 L587 522.5 L590 527.5 L592.5 526.25 L595 513.75 L597.5 511.25 L600 497.5 L602.5 487.5 L604.5 486.25 L607.5 475 L608.75 465 L611.25 463.75 L613.75 447.5 L615.5 426.25 L618 430 L620 431.25 L622.5 407.5 L624.38 406.62 L626.25 406.25 L627.5 413.75 L630 415 L632.5 420 L635 419.5 L637.5 413.75 L640 412.5 L642 438.75 L643.75 433.75 L646.25 441.25 L648.75 451.25 L651.25 452.5 L653.75 445 L655.5 445.5 L657.5 457.5 L660 460 L662.5 466.25 L664.5 475 L667.5 473.75 L668.75 472.5 L670.5 490 L672 476.25 L673.75 485 L676.25 490 L678.75 500 L680.5 503.75 L682.5 507.5 L683.75 512.5 L685.75 500 L687.5 513.75 L690 510 L692.5 522.5 L694.5 525 L696.25 518.75 L698.75 527.5 L701.25 532.5 L703 531.25 L705 540 L707.5 537.5 L710 542.5 L711.25 538 L713.75 550 L716.25 557.75 L717.75 557.5 L719 557.5 L721.5 562.5 L724 566.25 L727 561.25 L729.5 567.5 L731.12 572.78 L732.75 576.25 L735.25 577.5 L737.12 579.08 L739 581.25 L740.88 583.07 L742.75 582.5 L744.62 585.28 L746.5 586.25 L748.38 586.2 L750.25 588.75 L752.25 593.75 L754 587.5 L756.5 591.25 L759 588.75 L761 596.25 L763.5 590 L766.5 597.5 L769 592.5 L772 596.25 L774.5 595 L776.12 596.5 L777.75 599.5 L779.38 599.57 L781 597.5 L784 601.25 L785.88 598.67 L787.75 596.25 L789.62 600.87 L791.5 603 L794 601.25 L797 603 L798.62 601.86 L800.25 601.25 L802.12 599.26 L804 599.5 L806 601.25" fill="none" stroke="#ff0000" stroke-width="3" stroke-linejoin="miter" stroke-miterlimit="3" stroke-linecap="butt"/>
</g>
</svg>
</body></html>
